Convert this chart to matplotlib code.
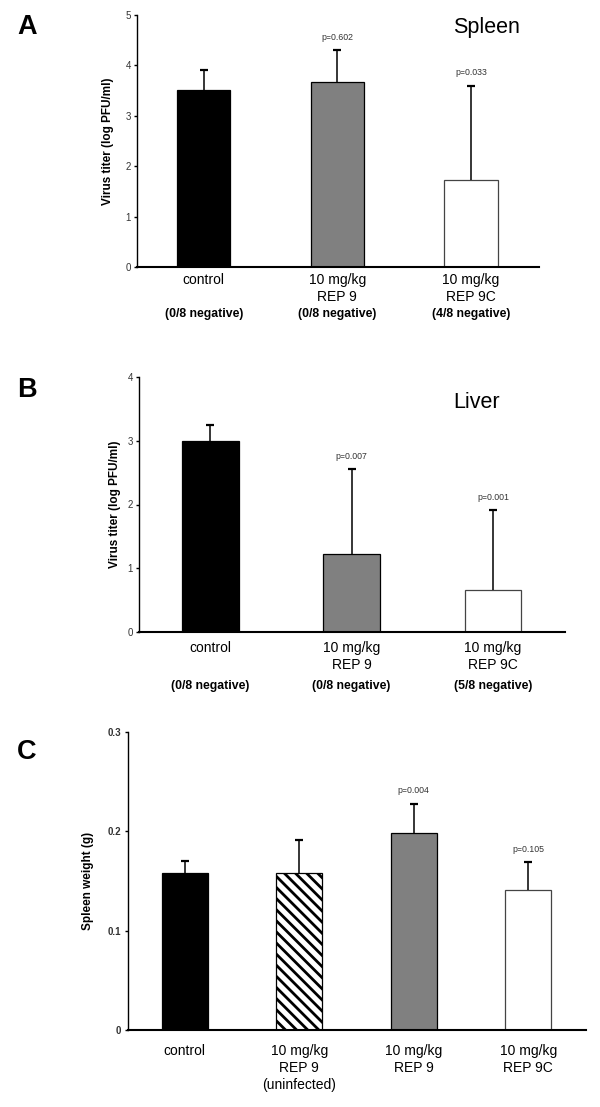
import matplotlib
matplotlib.use("Agg")
import matplotlib.pyplot as plt
from matplotlib import transforms

plt.rcParams['font.family'] = ['Liberation Sans', 'DejaVu Sans']
plt.rcParams['hatch.linewidth'] = 2.0

# ---- Data ----
catsA = ["control", "10 mg/kg\nREP 9", "10 mg/kg\nREP 9C"]
negA = ["(0/8 negative)", "(0/8 negative)", "(4/8 negative)"]
meanA = [3.52, 3.67, 1.73]
errA = [0.38, 0.63, 1.87]
pA = [None, "p=0.602", "p=0.033"]

catsB = ["control", "10 mg/kg\nREP 9", "10 mg/kg\nREP 9C"]
negB = ["(0/8 negative)", "(0/8 negative)", "(5/8 negative)"]
meanB = [3.0, 1.22, 0.66]
errB = [0.25, 1.33, 1.25]
pB = [None, "p=0.007", "p=0.001"]

catsC = ["control", "10 mg/kg\nREP 9\n(uninfected)", "10 mg/kg\nREP 9", "10 mg/kg\nREP 9C"]
meanC = [0.158, 0.158, 0.198, 0.141]
errC = [0.012, 0.033, 0.030, 0.028]
pC = [None, None, "p=0.004", "p=0.105"]

W, H = 600, 1107
fig = plt.figure(figsize=(W / 100, H / 100), dpi=100)


def px_axes(left, top, right, bottom):
    return fig.add_axes([left / W, 1 - bottom / H, (right - left) / W, (bottom - top) / H])


def draw(ax, means, errs, faces, edges, hatches, pvals, ymax, yticks, ticklabels,
         ylabel, xlim, label_x, tickbold=False):
    x = list(range(len(means)))
    for i in x:
        ax.bar(i, means[i], width=0.40, color=faces[i], edgecolor=edges[i],
               linewidth=0.9, hatch=hatches[i], zorder=2)
        eb = ax.errorbar(i, means[i], yerr=[[0], [errs[i]]], fmt='none', ecolor='black',
                         elinewidth=1.1, capsize=2.6, capthick=1.6, zorder=3)
        eb[1][0].set_visible(False)  # hide lower cap
        if pvals[i]:
            ax.annotate(pvals[i], (i, means[i] + errs[i]), xytext=(0, 9.3),
                        textcoords='offset points', ha='center', va='center',
                        fontsize=6.3, color='#333333')
    ax.set_xlim(*xlim)
    ax.set_ylim(0, ymax)
    ax.set_yticks(yticks)
    ax.set_yticklabels(ticklabels, fontsize=7, color='#333333',
                       fontweight='bold' if tickbold else 'normal')
    ax.set_xticks([])
    ax.spines['top'].set_visible(False)
    ax.spines['right'].set_visible(False)
    ax.spines['left'].set_linewidth(1.0)
    ax.spines['bottom'].set_linewidth(1.5)
    ax.tick_params(axis='y', length=2.5, width=1.0, pad=2)
    ax.set_ylabel(ylabel, fontsize=8.5, fontweight='bold', va='center')
    # label centre given in figure pixels
    bb = ax.get_position()
    ax.yaxis.set_label_coords((label_x / W - bb.x0) / bb.width, 0.5)


def cat_text(ax, i, s, ypx, **kw):
    tr = transforms.blended_transform_factory(ax.transData, fig.transFigure)
    ax.text(i, 1 - ypx / H, s, transform=tr, ha='center', va='top', **kw)


# Panel A
axA = px_axes(137, 15, 539, 267)
draw(axA, meanA, errA, ['black', '#808080', 'white'], ['black', 'black', '#444444'],
     [None, None, None], pA, 5, [0, 1, 2, 3, 4, 5], ['0', '1', '2', '3', '4', '5'],
     "Virus titer (log PFU/ml)", (-0.5, 2.51), 108)
for i, (c, n) in enumerate(zip(catsA, negA)):
    cat_text(axA, i, c, 273, fontsize=10, linespacing=1.28)
    cat_text(axA, i, n, 308.5, fontsize=8.8, fontweight='bold')
fig.text(27 / W, 1 - 27 / H, "A", fontsize=19.5, fontweight='bold', ha='center', va='center')
fig.text(487 / W, 1 - 27 / H, "Spleen", fontsize=15.5, ha='center', va='center')

# Panel B
axB = px_axes(139, 377, 565, 632)
draw(axB, meanB, errB, ['black', '#808080', 'white'], ['black', 'black', '#444444'],
     [None, None, None], pB, 4, [0, 1, 2, 3, 4], ['0', '1', '2', '3', '4'],
     "Virus titer (log PFU/ml)", (-0.505, 2.51), 115)
for i, (c, n) in enumerate(zip(catsB, negB)):
    cat_text(axB, i, c, 641, fontsize=10, linespacing=1.28)
    cat_text(axB, i, n, 680.5, fontsize=8.8, fontweight='bold')
fig.text(27 / W, 1 - 390 / H, "B", fontsize=19.5, fontweight='bold', ha='center', va='center')
fig.text(477 / W, 1 - 402 / H, "Liver", fontsize=15.5, ha='center', va='center')

# Panel C
axC = px_axes(127.5, 732, 586, 1030)
draw(axC, meanC, errC, ['black', 'white', '#808080', 'white'],
     ['black', 'black', 'black', '#444444'], [None, '\\\\\\', None, None], pC,
     0.3, [0, 0.1, 0.2, 0.3], ['0', '0.1', '0.2', '0.3'], "Spleen weight (g)",
     (-0.5, 3.505), 88, tickbold=True)
for i, c in enumerate(catsC):
    cat_text(axC, i, c, 1044, fontsize=10, linespacing=1.28)
fig.text(27 / W, 1 - 752 / H, "C", fontsize=19.5, fontweight='bold', ha='center', va='center')

fig.savefig("out.png", dpi=100)
